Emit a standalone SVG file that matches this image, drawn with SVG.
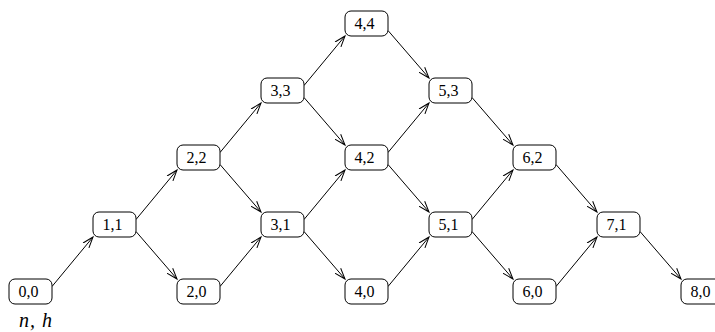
<svg xmlns="http://www.w3.org/2000/svg" width="715" height="332" viewBox="0 0 715 332">
<style>
.n rect{fill:#fff;stroke:#000;stroke-width:1}
.n text{font-family:"Liberation Serif","Times New Roman",serif;font-size:16px;text-anchor:middle;fill:#000}
.e path{fill:none;stroke:#000;stroke-width:1}
</style>
<defs>
<marker id="a" markerUnits="userSpaceOnUse" markerWidth="14" markerHeight="10" refX="11" refY="5" orient="auto">
<path d="M0,1.2 L11,5 L0,8.8" fill="none" stroke="#000" stroke-width="1"/>
</marker>
</defs>
<rect width="715" height="332" fill="#fff"/>
<g class="e">
<path d="M52 286.5 L93 237" marker-end="url(#a)"/>
<path d="M136 219.5 L177 170" marker-end="url(#a)"/>
<path d="M136 231.5 L177 279" marker-end="url(#a)"/>
<path d="M220 152.5 L261 103" marker-end="url(#a)"/>
<path d="M220 164.5 L261 212" marker-end="url(#a)"/>
<path d="M220 286.5 L261 237" marker-end="url(#a)"/>
<path d="M304 85.5 L345 36" marker-end="url(#a)"/>
<path d="M304 97.5 L345 145" marker-end="url(#a)"/>
<path d="M304 219.5 L345 170" marker-end="url(#a)"/>
<path d="M304 231.5 L345 279" marker-end="url(#a)"/>
<path d="M388 30.5 L429 78" marker-end="url(#a)"/>
<path d="M388 152.5 L429 103" marker-end="url(#a)"/>
<path d="M388 164.5 L429 212" marker-end="url(#a)"/>
<path d="M388 286.5 L429 237" marker-end="url(#a)"/>
<path d="M472 97.5 L513 145" marker-end="url(#a)"/>
<path d="M472 219.5 L513 170" marker-end="url(#a)"/>
<path d="M472 231.5 L513 279" marker-end="url(#a)"/>
<path d="M556 164.5 L597 212" marker-end="url(#a)"/>
<path d="M556 286.5 L597 237" marker-end="url(#a)"/>
<path d="M640 231.5 L681 279" marker-end="url(#a)"/>
</g>
<g id="n00" class="n"><rect x="9" y="279" width="43" height="25" rx="6"/><text x="28.5" y="296.5">0,0</text></g>
<g id="n11" class="n"><rect x="93" y="212" width="43" height="25" rx="6"/><text x="112.5" y="229.5">1,1</text></g>
<g id="n22" class="n"><rect x="177" y="145" width="43" height="25" rx="6"/><text x="196.5" y="162.5">2,2</text></g>
<g id="n20" class="n"><rect x="177" y="279" width="43" height="25" rx="6"/><text x="196.5" y="296.5">2,0</text></g>
<g id="n33" class="n"><rect x="261" y="78" width="43" height="25" rx="6"/><text x="280.5" y="95.5">3,3</text></g>
<g id="n31" class="n"><rect x="261" y="212" width="43" height="25" rx="6"/><text x="280.5" y="229.5">3,1</text></g>
<g id="n44" class="n"><rect x="345" y="11" width="43" height="25" rx="6"/><text x="364.5" y="28.5">4,4</text></g>
<g id="n42" class="n"><rect x="345" y="145" width="43" height="25" rx="6"/><text x="364.5" y="162.5">4,2</text></g>
<g id="n40" class="n"><rect x="345" y="279" width="43" height="25" rx="6"/><text x="364.5" y="296.5">4,0</text></g>
<g id="n53" class="n"><rect x="429" y="78" width="43" height="25" rx="6"/><text x="448.5" y="95.5">5,3</text></g>
<g id="n51" class="n"><rect x="429" y="212" width="43" height="25" rx="6"/><text x="448.5" y="229.5">5,1</text></g>
<g id="n62" class="n"><rect x="513" y="145" width="43" height="25" rx="6"/><text x="532.5" y="162.5">6,2</text></g>
<g id="n60" class="n"><rect x="513" y="279" width="43" height="25" rx="6"/><text x="532.5" y="296.5">6,0</text></g>
<g id="n71" class="n"><rect x="597" y="212" width="43" height="25" rx="6"/><text x="616.5" y="229.5">7,1</text></g>
<g id="n80" class="n"><rect x="681" y="279" width="43" height="25" rx="6"/><text x="700.5" y="296.5">8,0</text></g>
<g id="label"><text x="19" y="327" font-family="Liberation Serif,Times New Roman,serif" font-size="20" font-style="italic" letter-spacing="1">n, h</text></g>
</svg>
